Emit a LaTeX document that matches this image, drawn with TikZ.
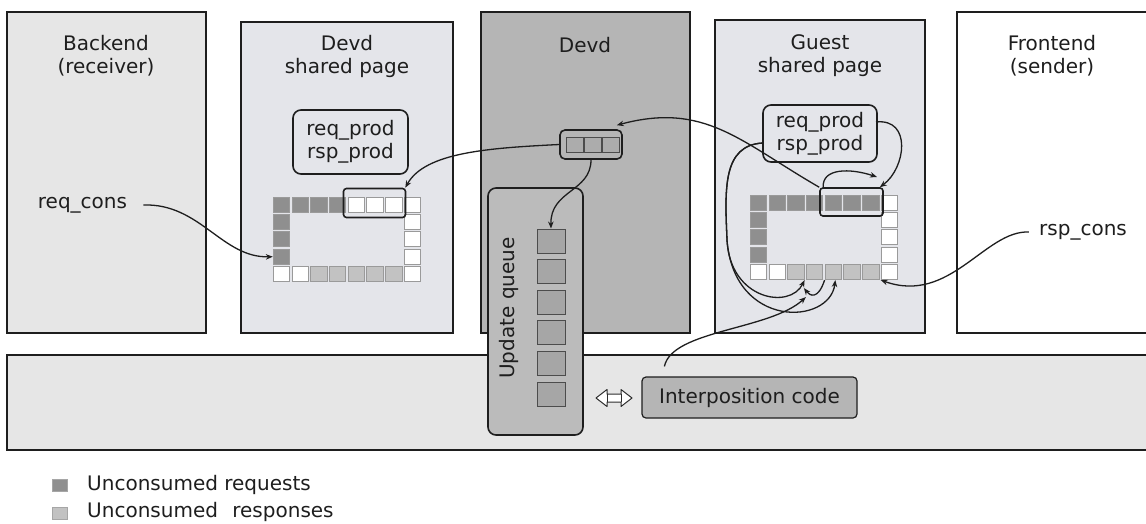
\documentclass[tikz,border=0pt]{standalone}
\usepackage{fontspec}
\setmainfont{DejaVu Sans}
\usetikzlibrary{arrows.meta}
\definecolor{lightA}{HTML}{E6E6E6}
\definecolor{lightB}{HTML}{E4E5EA}
\definecolor{devdC}{HTML}{B5B5B5}
\definecolor{uqC}{HTML}{BBBBBB}
\definecolor{icC}{HTML}{B5B5B5}
\definecolor{rqC}{HTML}{8F8F8F}
\definecolor{rsC}{HTML}{C2C2C2}
\definecolor{lineC}{HTML}{1E1E1E}
\definecolor{cellB}{HTML}{9A9A9A}
\newcommand\ringat[4]{%
 \foreach \i in {0,...,7}{%
   \ifnum\i<#4 \def\cf{rqC}\else\def\cf{white}\fi
   \node[cell,fill=\cf] (#1-\i-0) at ({#2+18.7*\i},#3) {};}
 \foreach \j in {1,2,3}{\node[cell,fill=rqC] (#1-0-\j) at (#2,{#3+17.4*\j}) {};}
 \foreach \j in {1,...,4}{\node[cell,fill=white] (#1-7-\j) at ({#2+18.7*7},{#3+17.4*\j}) {};}
 \foreach \i in {0,...,6}{%
   \ifnum\i<2 \def\cf{white}\else\def\cf{rsC}\fi
   \node[cell,fill=\cf] (#1-\i-4) at ({#2+18.7*\i},{#3+17.4*4}) {};}
}
\begin{document}
\begin{tikzpicture}[x=1pt,y=-1pt,
  font=\fontsize{20}{23}\selectfont,
  panel/.style={draw=lineC,line width=1.6pt},
  title/.style={align=center,inner sep=0,text=lineC},
  cell/.style={draw=cellB,line width=0.9pt,minimum width=16.5pt,minimum height=15pt,inner sep=0},
  hl/.style={draw=lineC,line width=1.6pt,rounded corners=3pt,inner sep=0},
  ptrbox/.style={draw=lineC,line width=1.6pt,rounded corners=8pt,align=center,inner sep=0,text=lineC},
  conn/.style={draw=lineC,line width=1.3pt,-{Stealth[length=7pt,width=5.5pt]}},
  label/.style={inner sep=0,text=lineC},
]
\useasboundingbox (0,0) rectangle (1146,523);
% panels
\path[panel,fill=lightA] (7,12) rectangle (206,333);
\path[panel,fill=lightB] (241,22) rectangle (453,333);
\path[panel,fill=devdC] (481,12) rectangle (690,333);
\path[panel,fill=lightB] (715,20) rectangle (925,333);
\path[panel,fill=white] (957,12) rectangle (1152,333);
\path[panel,fill=lightA] (7,355) rectangle (1152,450);
% titles
\node[title] (t1) at (106,56) {Backend\\(receiver)};
\node[title] (t2) at (347,56) {Devd\\shared page};
\node[title] (t3) at (585,45) {Devd};
\node[title] (t4) at (820,56) {Guest\\shared page};
\node[title] (t5) at (1052,56) {Frontend\\(sender)};
% pointer boxes
\node[ptrbox,minimum width=115pt,minimum height=64pt] (dp) at (350.5,142) {req\_prod\\rsp\_prod};
\node[ptrbox,minimum width=114pt,minimum height=57pt] (gp) at (820,133.5) {req\_prod\\rsp\_prod};
\coordinate (gpreq) at (876,122);
\coordinate (gprsp) at (763,143);
% rings
\ringat{d}{281.5}{204.5}{4}
\ringat{g}{758.5}{202.5}{7}
\node[hl,minimum width=62pt,minimum height=29pt] (dh) at (374.5,203) {};
\node[hl,minimum width=63pt,minimum height=28pt] (gh) at (851.5,202) {};
% labels
\node[label] (rc) at (82.5,205) {req\_cons};
\node[label] (sc) at (1083,232) {rsp\_cons};
% devd small queue
\node[draw=lineC,line width=1.6pt,rounded corners=5pt,minimum width=62pt,minimum height=29pt,inner sep=0] (dq) at (591,144.5) {};
\foreach \k/\x in {0/574.5,1/592.5,2/610.5}
  \node[draw=gray!60!black,line width=1pt,fill=gray!65,minimum width=17pt,minimum height=15pt,inner sep=0] (dq\k) at (\x,144.5) {};
% update queue
\node[draw=lineC,line width=1.6pt,fill=uqC,rounded corners=8pt,minimum width=95pt,minimum height=247pt,inner sep=0] (uq) at (535.5,311.5) {};
\node[label,rotate=90] (uql) at (509,308) {Update queue};
\foreach \k in {0,...,5}
  \node[draw=gray!60!black,line width=1pt,fill=gray!70,minimum width=28pt,minimum height=24pt,inner sep=0] (uq\k) at (551,{241+30.6*\k}) {};
% interposition
\node[draw=lineC,line width=1.2pt,fill=icC,rounded corners=4pt,minimum width=215pt,minimum height=41pt,inner sep=0,text=lineC] (ic) at (749.5,397.5) {Interposition code};
% hollow double arrow
\draw[draw=gray!35!black,fill=white,line width=1pt,line join=round]
  (596,398) -- (607,389.5) -- (607,394) -- (621,394) -- (621,389.5) -- (632,398)
  -- (621,406.5) -- (621,402) -- (607,402) -- (607,406.5) -- cycle;
\draw[draw=gray!35!black,line width=1pt] (607,394) -- (607,402) (621,394) -- (621,402);
% legend
\node[draw=gray!70,fill=rqC,minimum width=15pt,minimum height=12pt,inner sep=0] (lg1) at (60,485) {};
\node[label,anchor=west] (lt1) at (87,485) {Unconsumed requests};
\node[draw=gray!70,fill=rsC,minimum width=15pt,minimum height=12pt,inner sep=0] (lg2) at (60,513) {};
\node[label,anchor=west] (lt2) at (87,512) {Unconsumed\hspace{0.4em} responses};
% connectors
\draw[conn] ([xshift=16pt]rc.east) .. controls (200,203) and (222,258) .. (d-0-3.west);
\draw[conn] ([xshift=-10pt]sc.west) .. controls (985,230) and (950,305) .. (g-7-4.south west);
\draw[conn] (dq.west) .. controls (490,148) and (425,152) .. ([xshift=-1pt]dh.north east);
\draw[conn] (dq.south) .. controls (591,192) and (550,190) .. (uq0.north);
\draw[conn] (gh.north west) to[out=150,in=15,looseness=1.1] ([xshift=-6pt,yshift=4pt]dq.north east);
\draw[conn] (gpreq) .. controls (912,118) and (906,168) .. ([xshift=-4pt]gh.north east);
\draw[conn] ([xshift=4pt]gh.north west) .. controls (822,168) and (850,168) .. (877,177);
\draw[conn] (gprsp) .. controls (722,145) and (725,190) .. (727,240) .. controls (730,300) and (790,310) .. (g-2-4.south east);
\draw[conn] (gprsp) .. controls (722,145) and (725,190) .. (727,240) .. controls (734,330) and (830,325) .. ([xshift=2pt]g-4-4.south);
\draw[conn] (g-4-4.south west) .. controls (818,300) and (810,296) .. ([xshift=-2pt,yshift=-8pt]g-3-4.south west);
\draw[conn] ([yshift=10pt]ic.north west) ++(23,0) .. controls (672,330) and (770,330) .. ([yshift=-17pt]g-3-4.south west);
\end{tikzpicture}
\end{document}
